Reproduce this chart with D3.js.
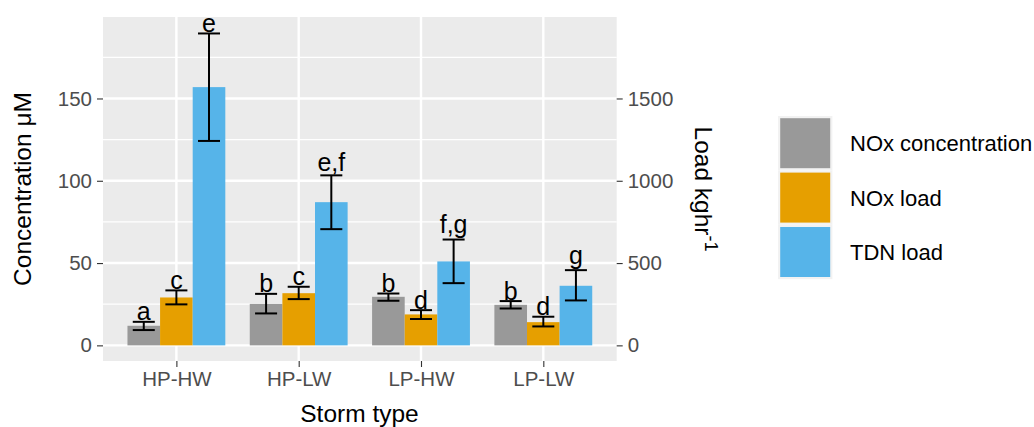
<!DOCTYPE html>
<html>
<head>
<meta charset="utf-8">
<script src="https://cdn.jsdelivr.net/npm/d3@7"></script>
<style>
  body { margin: 0; background: #fff; }
  svg { font-family: "Liberation Sans", Arial, sans-serif; }
</style>
</head>
<body>
<div id="chart"></div>
<script>
// Data
const stormTypes = ["HP-HW", "HP-LW", "LP-HW", "LP-LW"];
const seriesNames = ["NOx concentration", "NOx load", "TDN load"];
const seriesColors = ["#999999", "#E69F00", "#56B4E9"];

// NOx concentration (µM) - left axis
const noxConc   = [11.9, 25.2, 29.5, 24.6];
const noxConcLo = [9.3, 19.4, 27.1, 22.4];
const noxConcHi = [14.3, 31.3, 31.5, 26.9];
const noxConcLetters = ["a", "b", "b", "b"];

// NOx load (kg/hr) - right axis
const noxLoad   = [291, 317, 188, 141];
const noxLoadLo = [249, 281, 160, 115];
const noxLoadHi = [334, 356, 214, 174];
const noxLoadLetters = ["c", "c", "d", "d"];

// TDN load (kg/hr) - right axis
const tdnLoad   = [1569, 870, 510, 362];
const tdnLoadLo = [1242, 706, 378, 273];
const tdnLoadHi = [1895, 1033, 643, 457];
const tdnLoadLetters = ["e", "e,f", "f,g", "g"];

const concTicks = [0, 50, 100, 150];
const concMinor = [25, 75, 125, 175];
const loadTicks = [0, 500, 1000, 1500];

const width = 1034, height = 427;
const panel = { left: 103, right: 616.7, top: 17, bottom: 361 };

const svg = d3.select("#chart").append("svg")
    .attr("width", width)
    .attr("height", height);

// Scales
const x = d3.scalePoint()
    .domain(stormTypes)
    .range([panel.left, panel.right])
    .padding(0.6);
const step = x.step();

const dodge = d3.scaleBand()
    .domain(seriesNames)
    .range([-0.4 * step, 0.4 * step]);

const yConc = d3.scaleLinear().domain([-9.5, 199.5]).range([panel.bottom, panel.top]);
const yLoad = d3.scaleLinear().domain([-95, 1995]).range([panel.bottom, panel.top]);

// Panel background + grid
svg.append("rect")
    .attr("x", panel.left).attr("y", panel.top)
    .attr("width", panel.right - panel.left)
    .attr("height", panel.bottom - panel.top)
    .attr("fill", "#ebebeb");

const grid = svg.append("g");
grid.selectAll(".minor")
    .data(concMinor)
    .enter().append("line")
    .attr("x1", panel.left).attr("x2", panel.right)
    .attr("y1", d => yConc(d)).attr("y2", d => yConc(d))
    .attr("stroke", "#fff").attr("stroke-width", 1.2);
grid.selectAll(".major")
    .data(concTicks)
    .enter().append("line")
    .attr("x1", panel.left).attr("x2", panel.right)
    .attr("y1", d => yConc(d)).attr("y2", d => yConc(d))
    .attr("stroke", "#fff").attr("stroke-width", 2.4);
grid.selectAll(".vmajor")
    .data(stormTypes)
    .enter().append("line")
    .attr("x1", d => x(d)).attr("x2", d => x(d))
    .attr("y1", panel.top).attr("y2", panel.bottom)
    .attr("stroke", "#fff").attr("stroke-width", 2.4);

// Build rows for the bars
const series = [
    { name: seriesNames[0], y: yConc, mean: noxConc, lo: noxConcLo, hi: noxConcHi, letters: noxConcLetters },
    { name: seriesNames[1], y: yLoad, mean: noxLoad, lo: noxLoadLo, hi: noxLoadHi, letters: noxLoadLetters },
    { name: seriesNames[2], y: yLoad, mean: tdnLoad, lo: tdnLoadLo, hi: tdnLoadHi, letters: tdnLoadLetters }
];
const rows = [];
series.forEach((s, si) => {
    stormTypes.forEach((t, i) => {
        rows.push({
            type: t, si: si, y: s.y,
            mean: s.mean[i], lo: s.lo[i], hi: s.hi[i], letter: s.letters[i]
        });
    });
});

const cx = d => x(d.type) + dodge(seriesNames[d.si]) + dodge.bandwidth() / 2;

// Bars
svg.append("g").selectAll("rect")
    .data(rows)
    .enter().append("rect")
    .attr("x", d => x(d.type) + dodge(seriesNames[d.si]))
    .attr("width", dodge.bandwidth())
    .attr("y", d => d.y(d.mean))
    .attr("height", d => d.y(0) - d.y(d.mean))
    .attr("fill", d => seriesColors[d.si]);

// Error bars
const capW = 0.18 * step;
const err = svg.append("g")
    .attr("stroke", "#000")
    .attr("stroke-width", 2)
    .attr("fill", "none");
rows.forEach(d => {
    const c = cx(d);
    err.append("line").attr("x1", c).attr("x2", c).attr("y1", d.y(d.lo)).attr("y2", d.y(d.hi));
    err.append("line").attr("x1", c - capW / 2).attr("x2", c + capW / 2).attr("y1", d.y(d.lo)).attr("y2", d.y(d.lo));
    err.append("line").attr("x1", c - capW / 2).attr("x2", c + capW / 2).attr("y1", d.y(d.hi)).attr("y2", d.y(d.hi));
});

// Significance letters (bottom of text box sits on the upper cap)
function lift(s) {
    if (/[gjpqy]/.test(s)) return 5;
    if (/,/.test(s)) return 3;
    return 0;
}
svg.append("g").selectAll("text")
    .data(rows)
    .enter().append("text")
    .attr("x", d => cx(d))
    .attr("y", d => d.y(d.hi) - 1.5 - lift(d.letter))
    .attr("text-anchor", "middle")
    .attr("font-size", 25)
    .attr("fill", "#000")
    .text(d => d.letter);

// Axes
function styleAxis(g) {
    g.select(".domain").remove();
    g.selectAll(".tick line").attr("stroke", "#333").attr("stroke-width", 1.1);
    g.selectAll(".tick text").attr("fill", "#4d4d4d").attr("font-size", 20.5);
}

svg.append("g")
    .attr("transform", `translate(${panel.left},0)`)
    .call(d3.axisLeft(yConc).tickValues(concTicks).tickSize(6).tickPadding(5))
    .call(styleAxis);

svg.append("g")
    .attr("transform", `translate(${panel.right},0)`)
    .call(d3.axisRight(yLoad).tickValues(loadTicks).tickFormat(d3.format("d")).tickSize(6).tickPadding(5))
    .call(styleAxis);

svg.append("g")
    .attr("transform", `translate(0,${panel.bottom})`)
    .call(d3.axisBottom(x).tickSize(6).tickPadding(4))
    .call(styleAxis);

// Axis titles
svg.append("text")
    .attr("transform", `translate(359.5,422) `)
    .attr("text-anchor", "middle")
    .attr("font-size", 24.5)
    .text("Storm type");

svg.append("text")
    .attr("transform", `translate(31,${(panel.top + panel.bottom) / 2}) rotate(-90)`)
    .attr("text-anchor", "middle")
    .attr("font-size", 24.5)
    .text("Concentration \u03bcM");

const rt = svg.append("text")
    .attr("transform", `translate(695,${(panel.top + panel.bottom) / 2}) rotate(90)`)
    .attr("text-anchor", "middle")
    .attr("font-size", 24.5);
rt.append("tspan").text("Load kghr");
rt.append("tspan").attr("font-size", 18).attr("dy", -10).text("-1");

// Legend
const legend = svg.append("g").attr("transform", "translate(778,116)");
const keyPitch = 54.4;
const lg = legend.selectAll("g")
    .data(seriesNames)
    .enter().append("g")
    .attr("transform", (d, i) => `translate(0,${i * keyPitch})`);
lg.append("rect")
    .attr("width", 54.4).attr("height", 54.4)
    .attr("fill", "#f2f2f2");
lg.append("rect")
    .attr("x", 2.2).attr("y", 2.2)
    .attr("width", 50).attr("height", 50)
    .attr("fill", (d, i) => seriesColors[i]);
lg.append("text")
    .attr("x", 72)
    .attr("y", 27.2)
    .attr("dy", "0.36em")
    .attr("font-size", 22)
    .attr("fill", "#000")
    .text(d => d);
</script>
</body>
</html>
